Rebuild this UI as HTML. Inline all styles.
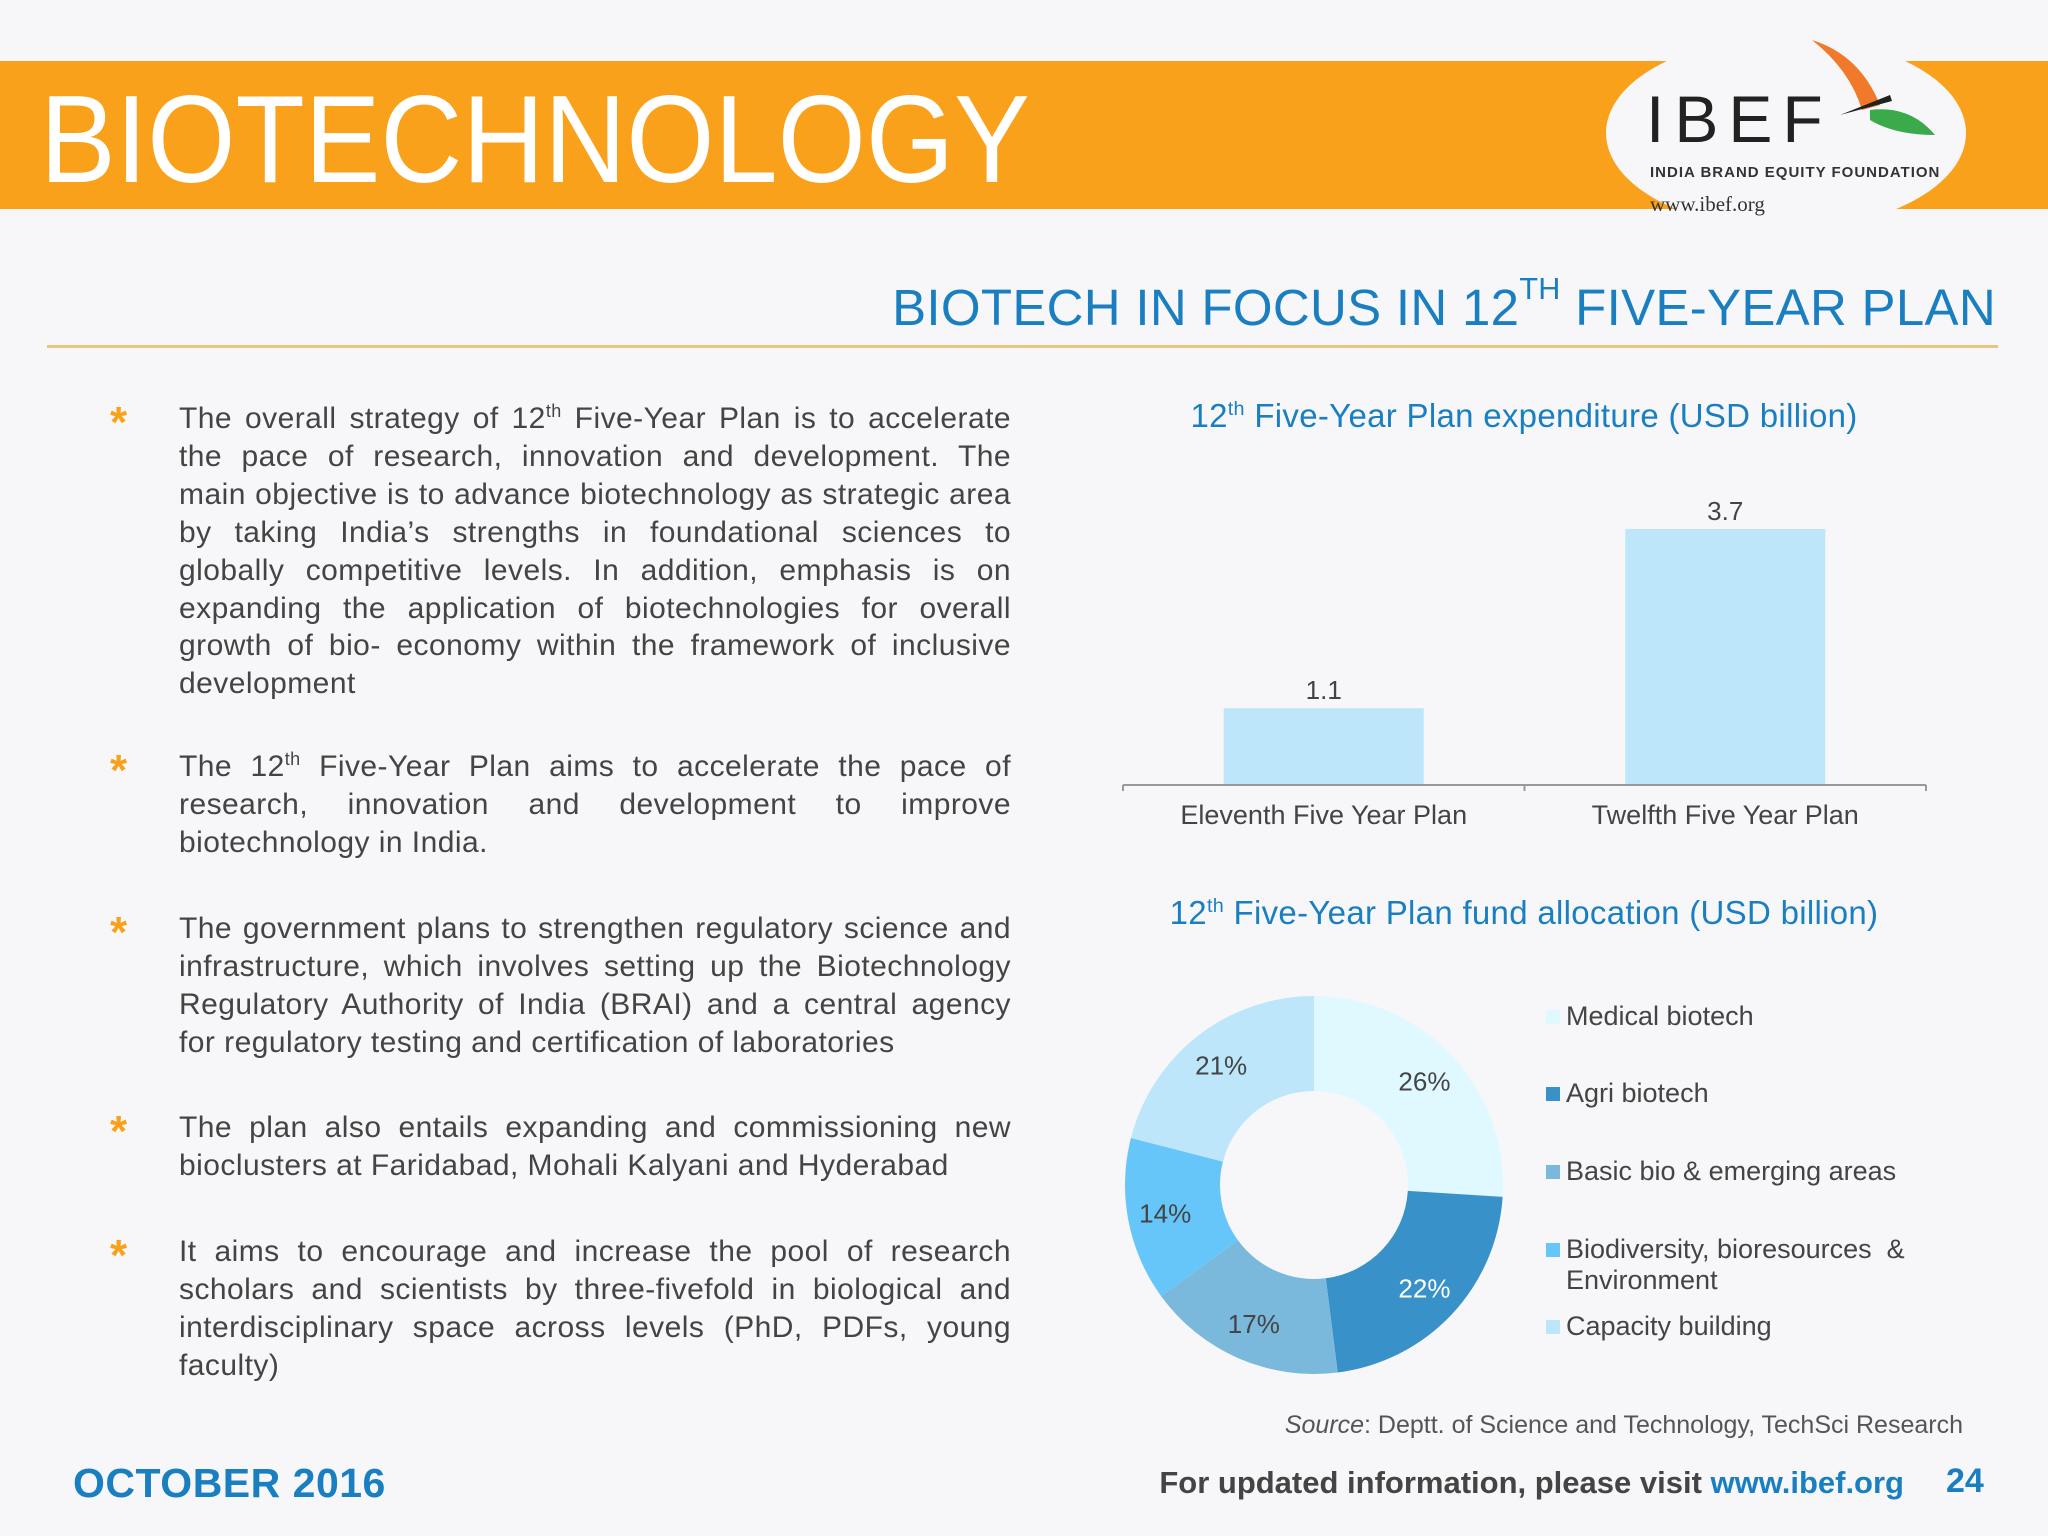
<!DOCTYPE html>
<html><head><meta charset="utf-8">
<style>
body{margin:0;}
#page{position:relative;width:2048px;height:1536px;background:#f7f7f9;overflow:hidden;font-family:"Liberation Sans",sans-serif;}
.abs{position:absolute;}
.bul{position:absolute;left:179px;width:832px;font-size:30px;letter-spacing:0.45px;line-height:37.9px;color:#444;text-align:justify;}
.star{position:absolute;left:110px;font-size:44px;color:#F9A11B;font-weight:bold;}
sup{font-size:60%;line-height:0;}
.leg{position:absolute;left:1566px;font-size:27px;color:#444;line-height:31px;}
.sq{position:absolute;left:1546px;width:14px;height:14px;}
</style></head><body>
<div id="page">
<div class="abs" style="left:0;top:61px;width:2048px;height:148px;background:#F9A11B;"></div>
<div class="abs" style="left:40px;top:70px;font-size:124px;color:#fff;line-height:140px;transform:scaleX(0.915);transform-origin:0 0;">BIOTECHNOLOGY</div>
<div class="abs" style="left:1606px;top:37px;width:360px;height:192px;border-radius:50%;background:#f7f7f9;"></div>
<div class="abs" style="left:1646px;top:84px;font-size:66px;color:#222;letter-spacing:10px;line-height:70px;">IBEF</div>
<svg class="abs" style="left:1800px;top:35px" width="140" height="110">
<path d="M12 5 Q60 20 80 70 L62 75 Q50 35 12 5Z" fill="#F07A2A"/>
<path d="M70 75 Q110 70 135 100 Q95 100 70 85Z" fill="#3BAA4A"/>
<path d="M40 80 L90 60 L92 66 Z" fill="#222"/>
</svg>
<div class="abs" style="left:1650px;top:164px;font-size:15px;font-weight:bold;color:#333;letter-spacing:1px;">INDIA BRAND EQUITY FOUNDATION</div>
<div class="abs" style="left:1650px;top:192px;font-size:21px;color:#333;font-family:'Liberation Serif',serif;">www.ibef.org</div>

<div class="abs" style="right:52px;top:278px;font-size:51px;letter-spacing:0.3px;color:#1a7fc0;line-height:60px;white-space:nowrap;">BIOTECH IN FOCUS IN 12<sup style="font-size:60%;position:relative;top:-8px">TH</sup> FIVE-YEAR PLAN</div>
<div class="abs" style="left:47px;top:345px;width:1951px;height:3px;background:#E5C77E;"></div>

<div class="star" style="top:398px">*</div>
<div class="bul" style="top:400px">The overall strategy of 12<sup>th</sup> Five-Year Plan is to accelerate the pace of research, innovation and development. The main objective is to advance biotechnology as strategic area by taking India’s strengths in foundational sciences to globally competitive levels. In addition, emphasis is on expanding the application of biotechnologies for overall growth of bio- economy within the framework of inclusive development</div>
<div class="star" style="top:746px">*</div>
<div class="bul" style="top:748px">The 12<sup>th</sup> Five-Year Plan aims to accelerate the pace of research, innovation and development to improve biotechnology in India.</div>
<div class="star" style="top:908px">*</div>
<div class="bul" style="top:910px">The government plans to strengthen regulatory science and infrastructure, which involves setting up the Biotechnology Regulatory Authority of India (BRAI) and a central agency for regulatory testing and certification of laboratories</div>
<div class="star" style="top:1107px">*</div>
<div class="bul" style="top:1109px">The plan also entails expanding and commissioning new bioclusters at Faridabad, Mohali Kalyani and Hyderabad</div>
<div class="star" style="top:1231px">*</div>
<div class="bul" style="top:1233px">It aims to encourage and increase the pool of research scholars and scientists by three-fivefold in biological and interdisciplinary space across levels (PhD, PDFs, young faculty)</div>

<div class="abs" style="left:1124px;width:800px;text-align:center;top:397px;font-size:33px;letter-spacing:0.3px;color:#1a7fc0;">12<sup>th</sup> Five-Year Plan expenditure (USD billion)</div>
<svg class="abs" style="left:0;top:0" width="2048" height="1536" id="chart"></svg>

<div class="abs" style="left:1124px;width:800px;text-align:center;top:894px;font-size:33px;letter-spacing:0.3px;color:#1a7fc0;">12<sup>th</sup> Five-Year Plan fund allocation (USD billion)</div>

<div class="sq" style="top:1010px;background:#E0F8FF"></div>
<div class="leg" style="top:1001px">Medical biotech</div>
<div class="sq" style="top:1087px;background:#3891C8"></div>
<div class="leg" style="top:1078px">Agri biotech</div>
<div class="sq" style="top:1165px;background:#7AB8DC"></div>
<div class="leg" style="top:1156px">Basic bio &amp; emerging areas</div>
<div class="sq" style="top:1243px;background:#66C6FA"></div>
<div class="leg" style="top:1234px">Biodiversity, bioresources &nbsp;&amp;<br>Environment</div>
<div class="sq" style="top:1320px;background:#BDE6FB"></div>
<div class="leg" style="top:1311px">Capacity building</div>

<div class="abs" style="right:85px;top:1411px;font-size:25px;color:#555;"><i>Source</i>: Deptt. of Science and Technology, TechSci Research</div>
<div class="abs" style="left:73px;top:1460px;font-size:41px;font-weight:bold;color:#1a7fc0;letter-spacing:0.5px;">OCTOBER 2016</div>
<div class="abs" style="right:144px;top:1465px;font-size:31px;font-weight:bold;color:#444;">For updated information, please visit <span style="color:#1a7fc0">www.ibef.org</span></div>
<div class="abs" style="left:1946px;top:1462px;font-size:34px;font-weight:bold;color:#1a7fc0;">24</div>
</div>
<script>
const barCategories=["Eleventh Five Year Plan","Twelfth Five Year Plan"];
const barValues=[1.1,3.7];
const barLabels=["1.1","3.7"];
const pieCategories=["Medical biotech","Agri biotech","Basic bio & emerging areas","Biodiversity, bioresources & Environment","Capacity building"];
const pieValues=[26,22,17,14,21];
const pieColors=["#E0F8FF","#3891C8","#7AB8DC","#66C6FA","#BDE6FB"];
const pieLabelColors=["#444","#fff","#444","#444","#444"];

const NS="http://www.w3.org/2000/svg";
const svg=document.getElementById('chart');
function mk(t,a){const e=document.createElementNS(NS,t);for(const k in a)e.setAttribute(k,a[k]);svg.appendChild(e);return e;}
const x0=1123,x1=1926,yBase=784,perUnit=255/3.7;
const band=(x1-x0)/barCategories.length;
function yS(v){return yBase-v*perUnit;}
barCategories.forEach((c,i)=>{
  const cx=x0+band*(i+0.5);
  const r=mk('rect',{x:cx-100,y:yS(barValues[i]),width:200,height:yBase-yS(barValues[i]),fill:'#BDE6FB'});
  
  
  const t=mk('text',{x:cx,y:yS(barValues[i])-9,'text-anchor':'middle','font-size':26,fill:'#444','font-family':'Liberation Sans'});
  t.textContent=barLabels[i];
  
  
  const l=mk('text',{x:cx,y:824,'text-anchor':'middle','font-size':27,fill:'#444','font-family':'Liberation Sans'});
  l.textContent=c;
  
  
});
const ax=mk('path',{d:`M${x0} ${yBase+1}H${x1}M${x0} ${yBase+1}v6M${x0+band} ${yBase+1}v6M${x1} ${yBase+1}v6`,stroke:'#999','stroke-width':2,fill:'none'});


const cx=1314,cy=1185,R=189,r0=94;
const tot=pieValues.reduce((a,b)=>a+b,0);
let a=0;
pieValues.forEach((v,i)=>{
  const a1=a+v/tot*2*Math.PI;
  const p=(ang,rad)=>[cx+rad*Math.sin(ang),cy-rad*Math.cos(ang)];
  const [ax1,ay1]=p(a,R),[ax2,ay2]=p(a1,R),[bx1,by1]=p(a1,r0),[bx2,by2]=p(a,r0);
  const lg=(a1-a)>Math.PI?1:0;
  const s=mk('path',{d:`M${ax1} ${ay1}A${R} ${R} 0 ${lg} 1 ${ax2} ${ay2}L${bx1} ${by1}A${r0} ${r0} 0 ${lg} 0 ${bx2} ${by2}Z`,fill:pieColors[i]});
  
  
  const m=(a+a1)/2,[lx,ly]=p(m,(R+r0)/2+10);
  const t=mk('text',{x:lx,y:ly+9,'text-anchor':'middle','font-size':26,fill:pieLabelColors[i],'font-family':'Liberation Sans'});
  t.textContent=v+'%';
  
  
  a=a1;
});
</script>
</body></html>
